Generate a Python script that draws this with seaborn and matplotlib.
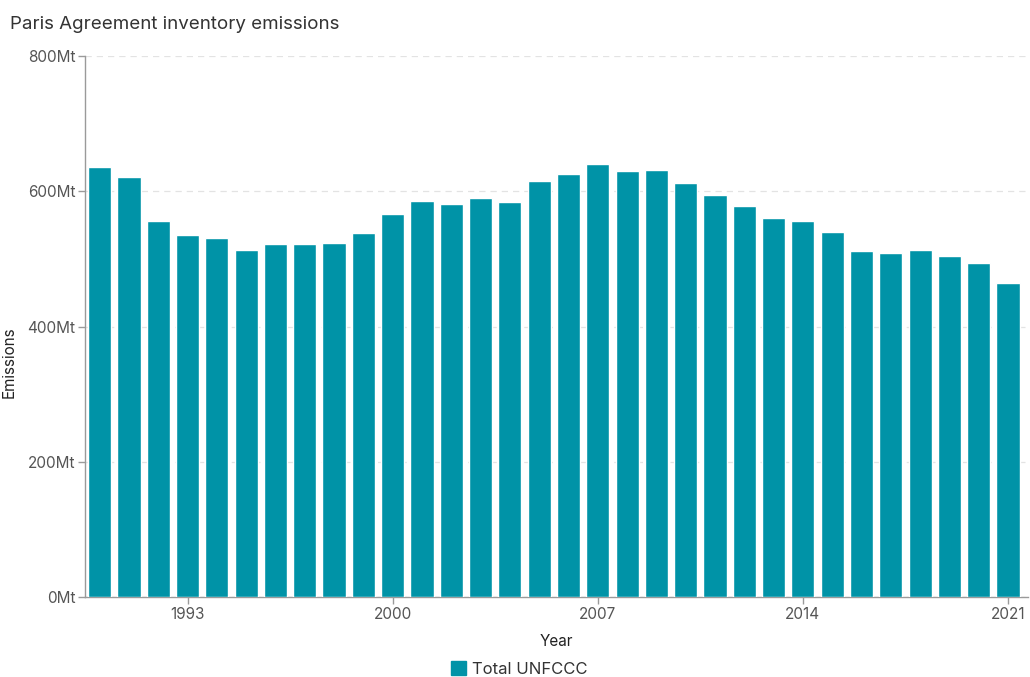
import matplotlib
matplotlib.use("Agg")
import matplotlib.pyplot as plt
import matplotlib.patches as mpatches
import seaborn as sns
import pandas as pd

years = list(range(1990, 2022))
emissions = [636, 621, 556, 535, 531, 514, 522, 522, 524, 539,
             566, 586, 582, 591, 584, 616, 626, 641, 630, 631,
             613, 594, 578, 561, 556, 540, 512, 509, 514, 505,
             494, 465]
tick_years = [1993, 2000, 2007, 2014, 2021]
y_ticks = [0, 200, 400, 600, 800]
series_name = "Total UNFCCC"
bar_color = "#0093a7"

sns.set_theme(style="white")
plt.rcParams["font.family"] = ["Inter", "DejaVu Sans"]

df = pd.DataFrame({"Year": [str(y) for y in years], "Emissions": emissions})

fig = plt.figure(figsize=(10.30, 6.77), dpi=100)
ax = fig.add_axes([0.0825, 0.118, 0.9155, 0.799])

sns.barplot(data=df, x="Year", y="Emissions", color=bar_color,
            width=0.79, saturation=1, ax=ax, zorder=3)

ax.set_xlim(-0.5, 31.68)
ax.set_ylim(0, 800)
ax.set_yticks(y_ticks)
ax.set_yticklabels([f"{v}Mt" for v in y_ticks])
ax.set_xticks([years.index(y) for y in tick_years])
ax.set_xticklabels([str(y) for y in tick_years])

ax.yaxis.grid(True, linestyle=(0, (5, 4)), color="#e3e3e3", linewidth=0.9, zorder=0)
ax.set_axisbelow(True)

for side in ["top", "right"]:
    ax.spines[side].set_visible(False)
for side in ["left", "bottom"]:
    ax.spines[side].set_color("#9a9a9a")
    ax.spines[side].set_linewidth(1.0)

ax.tick_params(axis="both", which="both", length=5, width=1, color="#9a9a9a",
               labelcolor="#555555", labelsize=11, pad=2, direction="out",
               left=True, bottom=True)

ax.set_xlabel("Year", fontsize=11, color="#222222")
ax.xaxis.set_label_coords(0.4995, -0.068)
ax.set_ylabel("Emissions", fontsize=11, color="#222222")
ax.yaxis.set_label_coords(-0.072, 0.434)

fig.text(0.0097, 0.964, "Paris Agreement inventory emissions", fontsize=13.5,
         color="#333333", ha="left", va="center")

handle = mpatches.Patch(color=bar_color, label=series_name)
fig.legend(handles=[handle], loc="center", bbox_to_anchor=(0.504, 0.012),
           frameon=False, fontsize=12, handlelength=0.9, handleheight=0.9,
           handletextpad=0.4, labelcolor="#333333", borderpad=0.2)

fig.savefig("out.png", dpi=100)
